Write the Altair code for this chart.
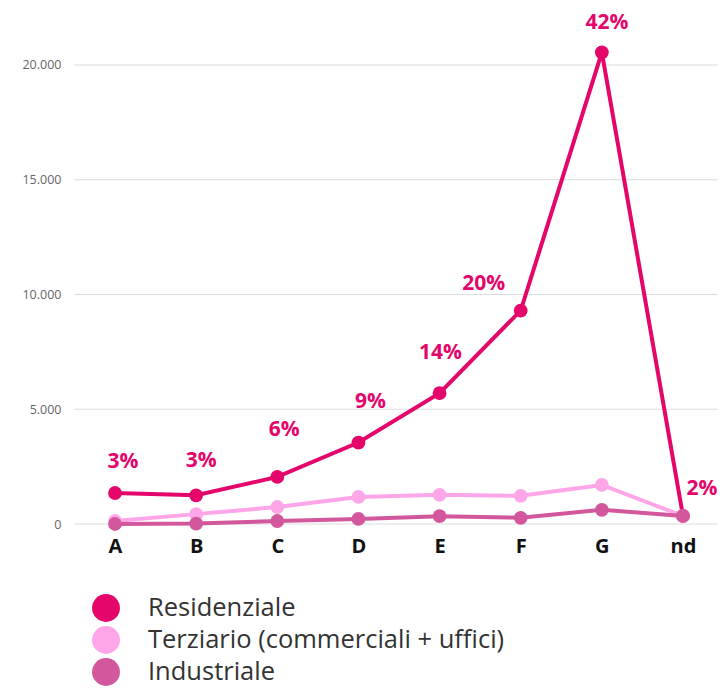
import altair as alt
import pandas as pd

classes = ["A", "B", "C", "D", "E", "F", "G", "nd"]
residenziale = [1350, 1250, 2050, 3550, 5700, 9300, 20550, 350]
terziario = [130, 430, 740, 1180, 1270, 1230, 1700, 350]
industriale = [0, 20, 130, 220, 340, 270, 620, 350]
pct_labels = ["3%", "3%", "6%", "9%", "14%", "20%", "42%", "2%"]
y_ticks = [0, 5000, 10000, 15000, 20000]
series = ["Residenziale", "Terziario (commerciali + uffici)", "Industriale"]
colors = ["#E4066B", "#FFA6E8", "#D2579C"]

rows = []
for name, vals in zip(series, [residenziale, terziario, industriale]):
    for c, v in zip(classes, vals):
        rows.append({"classe": c, "valore": v, "serie": name})
df = pd.DataFrame(rows)
lab = pd.DataFrame({"classe": classes, "valore": residenziale, "pct": pct_labels})
grid = pd.DataFrame({"valore": y_ticks})

font = "Open Sans"
xenc = alt.X("classe:N", sort=classes, scale=alt.Scale(type="point", range=[41, 609], padding=0),
             axis=alt.Axis(title=None, labelAngle=0, labelFontSize=20, labelFontWeight="bold",
                           labelColor="#111", labelFont=font, domain=False, ticks=False,
                           labelPadding=12, grid=False))
yscale = alt.Scale(domain=[0, 21786], nice=False)
yenc = alt.Y("valore:Q", scale=yscale,
             axis=alt.Axis(title=None, values=y_ticks,
                           labelExpr="replace(format(datum.value, ','), ',', '.')",
                           labelFontSize=12.5, labelColor="#666", labelFont=font,
                           domain=False, ticks=False, labelPadding=13, grid=False))
legend = alt.Legend(title=None, orient="none", legendX=18, legendY=570,
                    symbolType="circle", symbolSize=780, symbolStrokeWidth=0,
                    symbolOpacity=1, labelFontSize=25.5, labelColor="#333", labelFont=font,
                    labelOffset=28, rowPadding=4, labelLimit=0, values=series)
cenc = alt.Color("serie:N", scale=alt.Scale(domain=series, range=colors), legend=legend)

gridlayer = alt.Chart(grid).mark_rule(color="#dddddd", strokeWidth=1).encode(
    y=yenc, x=alt.value(0), x2=alt.value(660))

base = alt.Chart(df)
layers = [gridlayer]
for name in series:
    sub = base.transform_filter(alt.datum.serie == name)
    layers.append(sub.mark_line(strokeWidth=4).encode(x=xenc, y=yenc, color=cenc))
    layers.append(sub.mark_point(filled=True, size=190, opacity=1).encode(x=xenc, y=yenc, color=cenc))

# label placement (pixel offsets from each point)
label_offsets = {"A": (8, -31), "B": (5, -34), "C": (7, -47), "D": (12, -41),
                 "E": (1, -40), "F": (-37, -27), "G": (5, -29), "nd": (19, -27)}
tbase = alt.Chart(lab)
tstyle = dict(fontSize=21, fontWeight="bold", color="#E4066B", font=font)
for c, (dx, dy) in label_offsets.items():
    layers.append(tbase.transform_filter(alt.datum.classe == c).mark_text(
        dx=dx, dy=dy, **tstyle).encode(x=xenc, y=yenc, text="pct:N"))

chart = alt.layer(*layers).properties(
    width=644, height=500,
    autosize=alt.AutoSizeParams(type="none"),
    padding={"left": 66, "top": 16, "right": 0, "bottom": 165},
).configure_view(stroke=None)

chart.save("out.html", embed_options={"renderer": "svg", "actions": False})
